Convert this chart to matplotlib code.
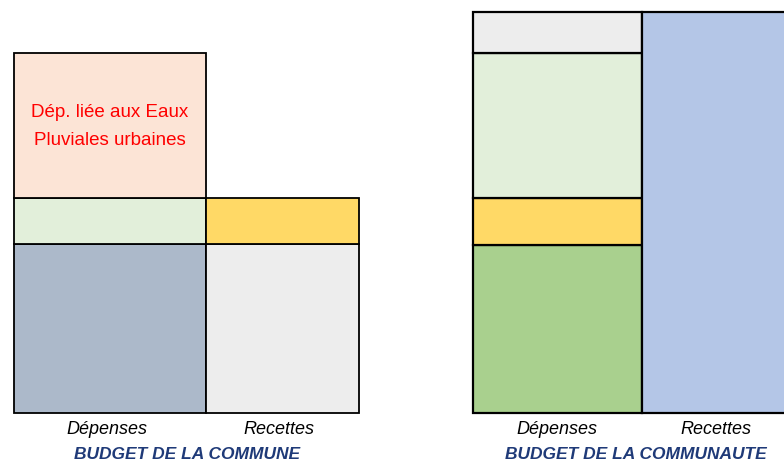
import matplotlib
matplotlib.use("Agg")
import matplotlib.pyplot as plt

# ---------- data (stacked heights, bottom to top) ----------
commune_dep      = [169, 46, 145]          # fonctionnement, invest., eaux pluviales
commune_dep_col  = ["#ACB9CA", "#E2EFDA", "#FCE4D6"]
commune_rec      = [169, 46]
commune_rec_col  = ["#EDEDED", "#FFD966"]

communaute_dep     = [168, 47, 145, 41]
communaute_dep_col = ["#A9D08E", "#FFD966", "#E2EFDA", "#EDEDED"]
communaute_rec     = [401]
communaute_rec_col = ["#B4C6E7"]

col_labels   = ["Dépenses", "Recettes"]
budget_names = ["BUDGET DE LA COMMUNE", "BUDGET DE LA COMMUNAUTE"]
eaux_label   = "Dép. liée aux Eaux\nPluviales urbaines"
# ------------------------------------------------------------

fam = ["Liberation Sans", "DejaVu Sans"]

fig = plt.figure(figsize=(7.84, 4.62), dpi=100)
ax = fig.add_axes([0, 0, 1, 1])
ax.set_xlim(0, 784)
ax.set_ylim(-49, 413)
ax.axis("off")


def stack(x, w, values, colors, lw):
    bottom = 0
    for v, c in zip(values, colors):
        ax.bar(x, v, width=w, bottom=bottom, align="edge", color=c,
               edgecolor="black", linewidth=lw, zorder=2)
        bottom += v


# budget de la commune
stack(14, 192, commune_dep, commune_dep_col, 1.3)
stack(206, 153, commune_rec, commune_rec_col, 1.3)
ax.text(110, sum(commune_dep[:2]) + commune_dep[2] / 2 - 1, eaux_label,
        color="red", ha="center", va="center", fontsize=13.5,
        linespacing=1.85, family=fam)

# budget de la communaute
stack(473, 169, communaute_dep, communaute_dep_col, 1.6)
stack(642, 169, communaute_rec, communaute_rec_col, 1.6)

# labels under the bars
for cx, lab in zip([107, 279, 557, 716], col_labels * 2):
    ax.text(cx, -17, lab, ha="center", va="center", fontsize=13,
            style="italic", family=fam)
for cx, name in zip([187, 636], budget_names):
    ax.text(cx, -41.5, name, ha="center", va="center", fontsize=12.5,
            style="italic", weight="bold", color="#1F3A78", family=fam)

fig.savefig("out.png", dpi=100)
